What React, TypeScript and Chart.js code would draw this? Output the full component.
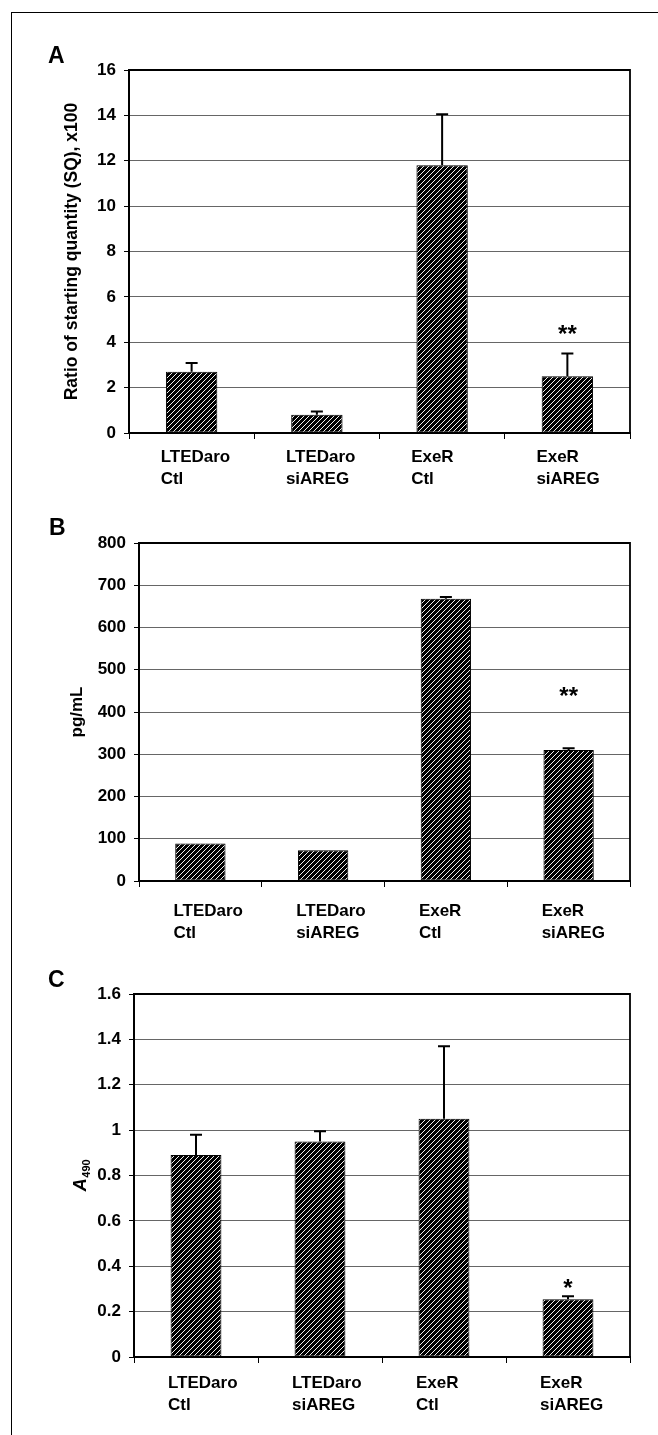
import React, { useEffect, useRef } from 'react';
import { Chart, registerables } from 'chart.js';

Chart.register(...registerables);

// ---------- data ----------
const categories = [
  ['LTEDaro', 'Ctl'],
  ['LTEDaro', 'siAREG'],
  ['ExeR', 'Ctl'],
  ['ExeR', 'siAREG'],
];

const panelAValues = [2.7, 0.8, 11.8, 2.5];
const panelAErrors = [0.38, 0.15, 2.25, 1.0];
const panelAMarks = ['', '', '', '**'];
const panelAMarkAt = [null, null, null, 4.55];

const panelBValues = [88.5, 73, 668, 310];
const panelBErrors = [0, 0, 4, 4];
const panelBMarks = ['', '', '', '**'];
const panelBMarkAt = [null, null, null, 447];

const panelCValues = [0.89, 0.95, 1.05, 0.255];
const panelCErrors = [0.09, 0.045, 0.32, 0.013];
const panelCMarks = ['', '', '', '*'];
const panelCMarkAt = [null, null, null, 0.32];

const yAxisA = { min: 0, max: 16, step: 2 };
const yAxisB = { min: 0, max: 800, step: 100 };
const yAxisC = { min: 0, max: 1.6, step: 0.2 };

const FAMILY = '"Liberation Sans", Arial, Helvetica, sans-serif';

// ---------- layout (positions/styles) ----------
const panels = [
  {
    letter: 'A', letterLeft: 48, letterBaseline: 63,
    values: panelAValues, errors: panelAErrors, marks: panelAMarks, markAt: panelAMarkAt, axis: yAxisA,
    yTitle: 'Ratio of starting quantity (SQ), x100', titlePad: 62, titleSize: 17.5, customTitle: false,
    canvasTop: 20, canvasHeight: 480, left: 129, top: 70, bottom: 433, labelOffset: -31, labelPad: 7,
  },
  {
    letter: 'B', letterLeft: 49, letterBaseline: 535,
    values: panelBValues, errors: panelBErrors, marks: panelBMarks, markAt: panelBMarkAt, axis: yAxisB,
    yTitle: 'pg/mL', titlePad: 67, titleSize: 17, customTitle: false,
    canvasTop: 500, canvasHeight: 460, left: 139, top: 543, bottom: 881, labelOffset: -27, labelPad: 13,
  },
  {
    letter: 'C', letterLeft: 48, letterBaseline: 987,
    values: panelCValues, errors: panelCErrors, marks: panelCMarks, markAt: panelCMarkAt, axis: yAxisC,
    yTitle: 'A', yTitleSub: '490', titlePad: 0, titleSize: 17, customTitle: true,
    canvasTop: 960, canvasHeight: 475, left: 134, top: 994, bottom: 1357, labelOffset: -28, labelPad: 9,
  },
];

const RIGHT = 630;
const WIDTH = 658;

function makeHatch(): CanvasPattern | string {
  const c = document.createElement('canvas');
  c.width = 5;
  c.height = 5;
  const g = c.getContext('2d');
  if (!g) return '#000';
  g.fillStyle = '#000';
  g.fillRect(0, 0, 5, 5);
  g.strokeStyle = '#ffffff';
  g.lineWidth = 0.95;
  g.beginPath();
  g.moveTo(-1, 6); g.lineTo(6, -1);
  g.moveTo(-1, 1); g.lineTo(1, -1);
  g.moveTo(4, 6); g.lineTo(6, 4);
  g.stroke();
  return g.createPattern(c, 'repeat') || '#000';
}

function fmtTick(v: number | string) {
  const n = Number(v);
  return String(Math.round(n * 10) / 10);
}

function extrasPlugin(p: any) {
  return {
    id: 'panelExtras',
    afterDatasetsDraw(chart: any) {
      const { ctx, chartArea, scales } = chart;
      const x = scales.x;
      const y = scales.y;
      ctx.save();
      // frame top & right
      ctx.strokeStyle = '#000';
      ctx.lineWidth = 1.8;
      ctx.beginPath();
      ctx.moveTo(chartArea.left, chartArea.top);
      ctx.lineTo(chartArea.right, chartArea.top);
      ctx.lineTo(chartArea.right, chartArea.bottom);
      ctx.stroke();
      // error bars (upper only)
      ctx.lineWidth = 2;
      p.errors.forEach((e: number, i: number) => {
        if (!e) return;
        const xp = x.getPixelForValue(i);
        const y0 = y.getPixelForValue(p.values[i]);
        const y1 = y.getPixelForValue(p.values[i] + e);
        ctx.beginPath();
        ctx.moveTo(xp, y0);
        ctx.lineTo(xp, y1);
        ctx.moveTo(xp - 6, y1);
        ctx.lineTo(xp + 6, y1);
        ctx.stroke();
      });
      // significance marks
      ctx.fillStyle = '#000';
      ctx.font = `bold 24px ${FAMILY}`;
      ctx.textAlign = 'center';
      ctx.textBaseline = 'alphabetic';
      p.marks.forEach((m: string, i: number) => {
        if (!m || p.markAt[i] == null) return;
        const xp = x.getPixelForValue(i);
        const yc = y.getPixelForValue(p.markAt[i]);
        ctx.fillText(m, xp, yc + 12);
      });
      // custom y title (A490)
      if (p.customTitle) {
        const cy = (chartArea.top + chartArea.bottom) / 2;
        ctx.translate(80, cy);
        ctx.rotate(-Math.PI / 2);
        ctx.font = `italic bold 18px ${FAMILY}`;
        const wA = ctx.measureText(p.yTitle).width;
        ctx.font = `bold 11px ${FAMILY}`;
        const wS = ctx.measureText(p.yTitleSub).width;
        const start = -(wA + wS) / 2;
        ctx.textAlign = 'left';
        ctx.textBaseline = 'alphabetic';
        ctx.font = `italic bold 18px ${FAMILY}`;
        ctx.fillText(p.yTitle, start, 6);
        ctx.font = `bold 11px ${FAMILY}`;
        ctx.fillText(p.yTitleSub, start + wA + 0.5, 10);
      }
      ctx.restore();
    },
  };
}

function buildConfig(p: any, hatch: any) {
  const xAxisHeight = p.canvasTop + p.canvasHeight - p.bottom;
  return {
    type: 'bar' as const,
    data: {
      labels: categories,
      datasets: [
        {
          data: p.values,
          backgroundColor: hatch,
          borderColor: '#000',
          borderWidth: 1,
          borderSkipped: false,
          barPercentage: 0.82,
          categoryPercentage: 0.5,
        },
      ],
    },
    options: {
      animation: false,
      responsive: false,
      maintainAspectRatio: false,
      layout: { padding: { left: 0, right: WIDTH - RIGHT, top: p.top - p.canvasTop, bottom: 0 } },
      plugins: {
        legend: { display: false },
        tooltip: { enabled: false },
        title: { display: false },
      },
      scales: {
        x: {
          grid: {
            display: true,
            drawOnChartArea: false,
            drawTicks: true,
            tickLength: 6,
            color: '#000',
            tickColor: '#000',
            lineWidth: 1,
            offset: true,
          },
          border: { display: true, color: '#000', width: 2 },
          ticks: {
            color: '#000',
            font: { family: FAMILY, size: 17, weight: 'bold', lineHeight: 1.3 },
            align: 'start',
            labelOffset: p.labelOffset,
            padding: p.labelPad,
            maxRotation: 0,
            minRotation: 0,
            autoSkip: false,
          },
          afterFit: (s: any) => { s.height = xAxisHeight; },
        },
        y: {
          min: p.axis.min,
          max: p.axis.max,
          ticks: {
            stepSize: p.axis.step,
            color: '#000',
            font: { family: FAMILY, size: 17, weight: 'bold' },
            padding: 8,
            callback: (v: any) => fmtTick(v),
          },
          grid: {
            color: '#666',
            tickColor: '#000',
            tickLength: 5,
            lineWidth: 1,
            drawTicks: true,
          },
          border: { display: true, color: '#000', width: 2 },
          title: {
            display: !p.customTitle,
            text: p.yTitle,
            color: '#000',
            font: { family: FAMILY, size: p.titleSize, weight: 'bold' },
            padding: { top: p.titlePad, bottom: 0 },
          },
          afterFit: (s: any) => { s.width = p.left; },
        },
      },
    },
    plugins: [extrasPlugin(p)],
  };
}

export default function App() {
  const r0 = useRef<HTMLCanvasElement>(null);
  const r1 = useRef<HTMLCanvasElement>(null);
  const r2 = useRef<HTMLCanvasElement>(null);
  const refs = [r0, r1, r2];

  useEffect(() => {
    const hatch = makeHatch();
    const charts = panels.map((p, i) => {
      const el = refs[i].current as HTMLCanvasElement;
      return new Chart(el, buildConfig(p, hatch) as any);
    });
    return () => charts.forEach((c) => c.destroy());
  }, []);

  return (
    <div style={{ position: 'absolute', left: 0, top: 0, width: WIDTH, height: 1435, background: '#fff', overflow: 'hidden' }}>
      <div style={{ position: 'absolute', left: 11, top: 12, width: WIDTH - 11, height: 1, background: '#000' }} />
      <div style={{ position: 'absolute', left: 11, top: 12, width: 1, height: 1435 - 12, background: '#000' }} />
      {panels.map((p, i) => (
        <canvas
          key={p.letter}
          ref={refs[i]}
          width={WIDTH}
          height={p.canvasHeight}
          style={{ position: 'absolute', left: 0, top: p.canvasTop, width: WIDTH, height: p.canvasHeight }}
        />
      ))}
      {panels.map((p) => (
        <div
          key={'L' + p.letter}
          style={{
            position: 'absolute',
            left: p.letterLeft,
            top: p.letterBaseline - 19.5,
            fontFamily: FAMILY,
            fontWeight: 'bold',
            fontSize: 23,
            lineHeight: '23px',
            color: '#000',
          }}
        >
          {p.letter}
        </div>
      ))}
    </div>
  );
}
